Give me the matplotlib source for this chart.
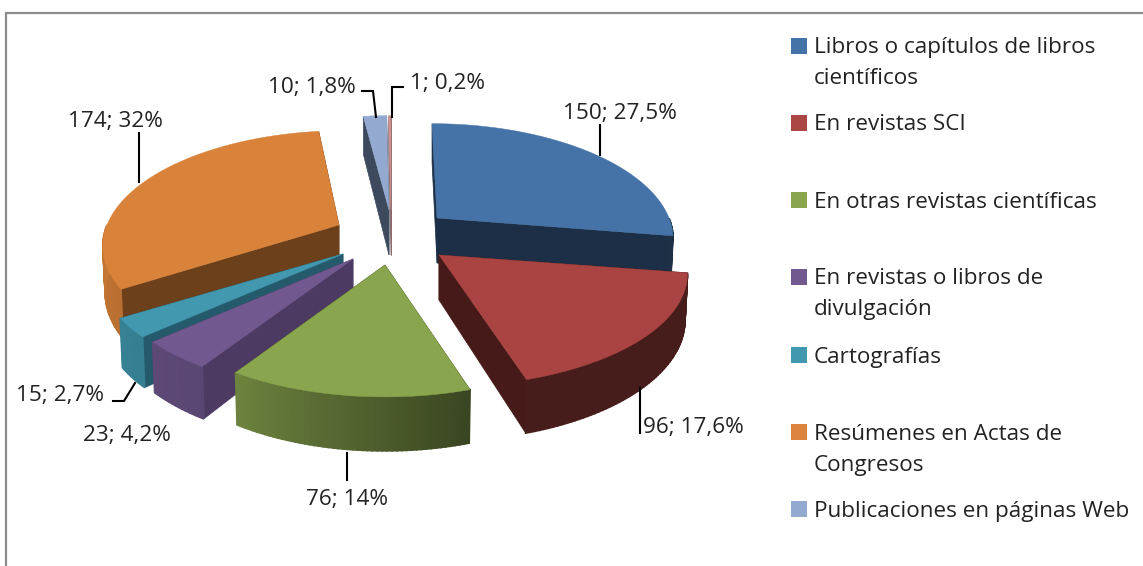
"""
Exploded 3D pie of publication types, drawn by hand because matplotlib
has no 3D pie. Slice angles come from the values, apexes are set per slice.
"""
import numpy as np
from matplotlib import pyplot as plt
from matplotlib.colors import to_rgb
from matplotlib.patches import Polygon, Rectangle

plt.rcParams['font.family'] = ['Open Sans', 'DejaVu Sans']

categories = ['Libros o capítulos de libros\ncientíficos', 'En revistas SCI',
              'En otras revistas científicas', 'En revistas o libros de\ndivulgación',
              'Cartografías', 'Resúmenes en Actas de\nCongresos',
              'Publicaciones en páginas Web']
legend_colors = ['#4573A7', '#AA4643', '#89A54E', '#71588F', '#4198AF', '#DB843D', '#93A9CF']
legend_y = [46, 123, 200, 277, 355, 432, 509]

values = [150, 96, 76, 23, 15, 174, 10, 1]
labels = ['150; 27,5%', '96; 17,6%', '76; 14%', '23; 4,2%', '15; 2,7%',
          '174; 32%', '10; 1,8%', '1; 0,2%']
colors = ['#4573A7', '#A94442', '#89A54E', '#71588F', '#4198AF', '#D98239', '#93A9CF', '#D09090']
cut_colors = ['#1C2F47', '#451A18', '#3E4A22', '#4C3A62', '#245A6B', '#6D401C', '#3D4A5E', '#8A6C6C']
apexes = [(437, 218), (439, 255), (385, 265), (353, 259), (343, 254), (339, 225), (389, 210), (391, 210)]
radii = [232, 245, 238, 240, 240, 232, 237, 240]
skews = [-5, 0, 0, 0, 0, 5, 0, 0]
draw_order = [6, 7, 5, 0, 4, 3, 2, 1]

label_pos = [(620, 114), (693, 428), (347, 499), (127, 435), (60, 396), (115, 122), (312, 87), (447, 84)]
leaders = [[(600, 125), (600, 155)], [(640, 388), (640, 433)], [(347, 453), (347, 480)], None,
           [(113, 401), (124, 401), (135, 383)], [(139, 133), (139, 182)],
           [(362, 91), (373, 91), (376, 117)], [(403, 87), (392, 87), (392, 117)]]

RY, PERSP, DEPTH = 110, 0.166, 45


def rim(theta, apex, rx, skew):
    u, v = np.cos(np.radians(theta)), np.sin(np.radians(theta))
    s = 1 / (1 + PERSP * v)
    return apex[0] + rx * u * s + skew * v, apex[1] - RY * v * s, s


def shade(color, f):
    return tuple(c * f for c in to_rgb(color))


def draw_slice(ax, start, end, apex, color, cut, rx, skew):
    angles = np.linspace(start, end, max(int(abs(end - start)), 2) + 1)
    x, y, s = rim(angles, apex, rx, skew)
    low_x = apex[0] + (x - apex[0]) * 0.99
    low_y = y + DEPTH * s

    for i in (0, -1):
        ax.add_patch(Polygon([apex, (x[i], y[i]), (low_x[i], low_y[i]), (apex[0], apex[1] + DEPTH)],
                             fc=cut, ec=cut, lw=0.5))
    for i in range(len(angles) - 1):
        # back of the pie is never seen
        if np.sin(np.radians(angles[i])) > 0:
            continue
        f = np.interp(-angles[i], [72, 123, 180], [0.42, 0.8, 0.92])
        c = shade(color, f)
        ax.add_patch(Polygon([(x[i], y[i]), (x[i + 1], y[i + 1]), (low_x[i + 1], low_y[i + 1]), (low_x[i], low_y[i])],
                             fc=c, ec=c, lw=1.2))
    ax.add_patch(Polygon([apex] + list(zip(x, y)), fc=color, ec=color, lw=0.3))


fig = plt.figure(figsize=(11.43, 5.66), dpi=100)
ax = fig.add_axes([0, 0, 1, 1])
ax.set_xlim(0, 1143)
ax.set_ylim(566, 0)
ax.axis('off')

# frame, only top and left are visible
ax.plot([6, 6, 1143], [566, 13, 13], color='#8C8C8C', lw=1.6, solid_joinstyle='miter')

edges = 90 - np.cumsum([0] + values) / sum(values) * 360
for i in draw_order:
    draw_slice(ax, edges[i], edges[i + 1], apexes[i], colors[i], cut_colors[i], radii[i], skews[i])

for i, label in enumerate(labels):
    ax.text(label_pos[i][0], label_pos[i][1], label, fontsize=16.2, color='#222222', ha='center', va='center')
    if leaders[i]:
        ax.plot(*zip(*leaders[i]), color='black', lw=1.5, solid_joinstyle='miter')

for name, c, y in zip(categories, legend_colors, legend_y):
    ax.add_patch(Rectangle((791, y - 8), 16, 16, fc=c, ec='none'))
    for j, line in enumerate(name.split('\n')):
        ax.text(814, y + 2 + j * 31, line, fontsize=16.2, color='#222222', ha='left', va='center')

fig.savefig('out.png', dpi=100)
